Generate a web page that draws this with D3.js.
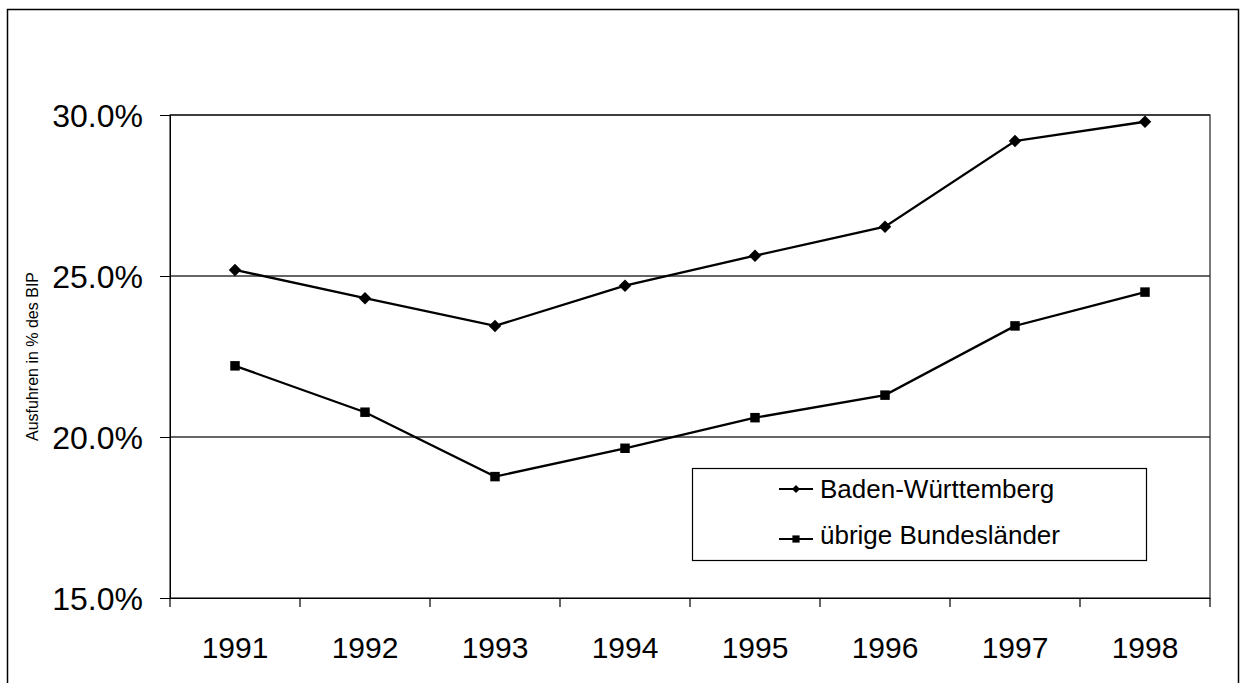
<!DOCTYPE html>
<html>
<head>
<meta charset="utf-8">
<script src="https://cdn.jsdelivr.net/npm/d3@7"></script>
<style>
  body { margin: 0; background: #fff; }
  text { font-family: "Liberation Sans", Arial, sans-serif; fill: #000; }
</style>
</head>
<body>
<svg id="chart"></svg>
<script>
// data (Ausfuhren in % des BIP)
const years = ["1991", "1992", "1993", "1994", "1995", "1996", "1997", "1998"];
const badenWuerttemberg = [25.19, 24.31, 23.45, 24.70, 25.63, 26.53, 29.19, 29.79];
const uebrigeLaender = [22.21, 20.77, 18.77, 19.65, 20.60, 21.30, 23.45, 24.50];
const yTicks = [15, 20, 25, 30];
const seriesNames = ["Baden-Württemberg", "übrige Bundesländer"];

const W = 1243, H = 683;
// plot area
let margin = {top: 115, left: 170},
    width = 1040,
    height = 483;

let svg = d3.select("#chart").attr("width", W).attr("height", H);

// outer frame (runs off the bottom like in the scan)
svg.append("rect")
    .attr("x", 7.5).attr("y", 9.5)
    .attr("width", 1231).attr("height", 720)
    .attr("fill", "none").attr("stroke", "#000").attr("stroke-width", 1.5);

let x = d3.scaleBand().domain(years).range([0, width]).padding(0);
let y = d3.scaleLinear().domain([15, 30]).range([height, 0]);

let g = svg.append("g")
    .attr("transform", "translate(" + margin.left + "," + margin.top + ")");

// gridlines
g.selectAll("line.grid")
    .data(yTicks.filter(d => d > 15))
    .enter().append("line")
    .attr("class", "grid")
    .attr("x1", 0).attr("x2", width)
    .attr("y1", d => y(d)).attr("y2", d => y(d))
    .attr("stroke", "#333").attr("stroke-width", 1.5);

// plot border
g.append("rect")
    .attr("x", 0).attr("y", 0)
    .attr("width", width).attr("height", height)
    .attr("fill", "none").attr("stroke", "#222").attr("stroke-width", 1.2);

// y axis
let yAxis = g.append("g")
    .call(d3.axisLeft(y).tickValues(yTicks)
        .tickFormat(d => d.toFixed(1) + "%")
        .tickSize(10).tickSizeOuter(0).tickPadding(17));
yAxis.select(".domain").attr("stroke", "#000");
yAxis.selectAll("line").attr("stroke", "#000");
yAxis.selectAll("text")
    .attr("font-size", "32px")
    .attr("dy", "0.36em")
    .style("font-family", "'Liberation Sans', Arial, sans-serif");

// x axis: labels at band centres, ticks at the band borders
let xAxis = g.append("g")
    .attr("transform", "translate(0," + height + ")")
    .call(d3.axisBottom(x).tickSize(0).tickSizeOuter(0));
xAxis.select(".domain").attr("stroke", "#000").attr("stroke-width", 1.2);
xAxis.selectAll("text")
    .attr("font-size", "30px")
    .attr("dy", null)
    .attr("y", 60)
    .style("font-family", "'Liberation Sans', Arial, sans-serif");

let borders = years.map(d => x(d)).concat([width]);
g.selectAll("line.xtick")
    .data(borders)
    .enter().append("line")
    .attr("class", "xtick")
    .attr("x1", d => d).attr("x2", d => d)
    .attr("y1", height).attr("y2", height + 9)
    .attr("stroke", "#000").attr("stroke-width", 1.2);

// y axis title
svg.append("text")
    .attr("transform", "translate(38," + (margin.top + height / 2) + ") rotate(-90)")
    .attr("text-anchor", "middle")
    .attr("font-size", "16px")
    .text("Ausfuhren in % des BIP");

// lines + markers
let line = d3.line()
    .x((d, i) => x(years[i]) + x.bandwidth() / 2)
    .y(d => y(d));

let square = d3.symbol().type(d3.symbolSquare);

function drawSeries(values, kind) {
    g.append("path")
        .datum(values)
        .attr("d", line)
        .attr("fill", "none")
        .attr("stroke", "#000")
        .attr("stroke-width", 2.3);
    g.selectAll("path.m-" + kind)
        .data(values)
        .enter().append("path")
        .attr("class", "m-" + kind)
        .attr("d", kind === "diamond" ? square.size(78)() : square.size(90)())
        .attr("transform", (d, i) => "translate(" + (x(years[i]) + x.bandwidth() / 2) + "," + y(d) + ")" +
            (kind === "diamond" ? " rotate(45)" : ""))
        .attr("fill", "#000");
}
drawSeries(badenWuerttemberg, "diamond");
drawSeries(uebrigeLaender, "square");

// legend
let legend = svg.append("g");
legend.append("rect")
    .attr("x", 692.5).attr("y", 468.5)
    .attr("width", 454).attr("height", 92)
    .attr("fill", "#fff").attr("stroke", "#000").attr("stroke-width", 1.2);

let legendRows = [489, 539];
let legendBaselines = [498, 544];
seriesNames.forEach(function(name, i) {
    let ly = legendRows[i];
    legend.append("line")
        .attr("x1", 779).attr("x2", 813)
        .attr("y1", ly).attr("y2", ly)
        .attr("stroke", "#000").attr("stroke-width", 2);
    legend.append("path")
        .attr("d", i === 0 ? d3.symbol().type(d3.symbolSquare).size(32)() : d3.symbol().type(d3.symbolSquare).size(52)())
        .attr("transform", "translate(796," + ly + ")" + (i === 0 ? " rotate(45)" : ""))
        .attr("fill", "#000");
    legend.append("text")
        .attr("x", 820)
        .attr("y", legendBaselines[i])
        .attr("font-size", "26px")
        .text(name);
});
</script>
</body>
</html>
